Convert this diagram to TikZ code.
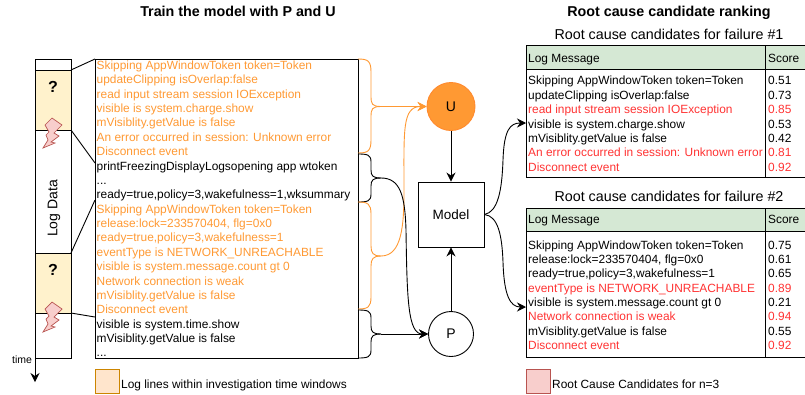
\documentclass[tikz,border=0pt]{standalone}
\usepackage{fontspec}
\setmainfont{Liberation Sans}
\usetikzlibrary{arrows.meta}
\definecolor{logorange}{HTML}{FF9933}
\definecolor{logred}{HTML}{FF3333}
\definecolor{headgreen}{HTML}{D5E8D4}
\definecolor{winyellow}{HTML}{FFF2CC}
\definecolor{flashred}{HTML}{F8CECC}
\definecolor{flashline}{HTML}{B85450}
\tikzset{
  line/.style={black,line width=0.9pt},
  logline/.style={anchor=base west,inner sep=0pt,font=\fontsize{11.9}{14}\selectfont},
  title/.style={anchor=base,inner sep=0pt,font=\fontsize{14.3}{16}\selectfont\bfseries},
  subtitle/.style={anchor=base,inner sep=0pt,font=\fontsize{14.3}{16}\selectfont},
  tip/.style={-{Stealth[length=9pt,width=9pt,inset=3pt]}},
  window/.style={draw=black,line width=0.9pt,fill=winyellow},
  flash/.style={draw=flashline,line width=0.7pt,fill=flashred},
}
\begin{document}
\begin{tikzpicture}[x=1pt,y=-1pt]
  \useasboundingbox (0,0) rectangle (805,394);
  % titles
  \node [title] (traintitle) at (238,16) {Train the model with P and U};
  \node [title] (ranktitle) at (669,16) {Root cause candidate ranking};
  \node [subtitle] (subone) at (669,39) {Root cause candidates for failure \#1};
  \node [subtitle] (subtwo) at (669,201) {Root cause candidates for failure \#2};
  % log data column
  \draw [line] (35,59) rectangle (71,358);
  \draw [window] (35,70) rectangle (71,130);
  \draw [window] (35,253) rectangle (71,313);
  \node [font=\fontsize{16}{16}\selectfont\bfseries,inner sep=0pt] (qone) at (53,87) {?};
  \node [font=\fontsize{16}{16}\selectfont\bfseries,inner sep=0pt] (qtwo) at (53,270) {?};
  \node [font=\fontsize{14}{14}\selectfont,inner sep=0pt,rotate=90] (logdata) at (54,208.5) {Log Data};
  \foreach \dy in {0,184}
    \draw [flash,shift={(0,\dy)}] (52,118) -- (62,125) -- (54,133) -- (59,136) -- (51,142)
      -- (55,143) -- (43,148) -- (48,140) -- (46,135) -- (49,132) -- (45,125) -- cycle;
  % time axis
  \coordinate (timeend) at (35,382);
  \coordinate (timestart) at (35,358);
  \draw [line,tip] (timestart) -- (timeend);
  \node [font=\fontsize{10.5}{11}\selectfont,inner sep=0pt] (timelabel) at (22,360) {time};
  % log panel
  \draw [line] (95,59) rectangle (358,358);
  \draw [line] (71,70) -- (95,59);
  \draw [line] (71,130) -- (95,163);
  \draw [line] (71,253) -- (95,200);
  \draw [line] (71,313) -- (95,317);
  \foreach \y/\c/\t [count=\i] in {
    69/logorange/{Skipping AppWindowToken token=Token},
    83.3/logorange/{updateClipping isOverlap:false},
    98/logorange/{read input stream session IOException},
    112/logorange/{visible is system.charge.show},
    126.5/logorange/{mVisiblity.getValue is false},
    141/logorange/{An error occurred in session: Unknown error},
    155/logorange/{Disconnect event},
    170/black/{printFreezingDisplayLogsopening app wtoken},
    184/black/{...},
    198.5/black/{ready=true,policy=3,wakefulness=1,wksummary},
    213/logorange/{Skipping AppWindowToken token=Token},
    227/logorange/{release:lock=233570404, flg=0x0},
    241.5/logorange/{ready=true,policy=3,wakefulness=1},
    256/logorange/{eventType is NETWORK\_UNREACHABLE},
    270/logorange/{visible is system.message.count gt 0},
    285/logorange/{Network connection is weak},
    299/logorange/{mVisiblity.getValue is false},
    313.5/logorange/{Disconnect event},
    328/black/{visible is system.time.show},
    342/black/{mVisiblity.getValue is false},
    356.5/black/{...}}
    \node [logline,text=\c] (log\i) at (96.5,\y) {\t};
  % model
  \node [draw,circle,line width=0.9pt,draw=logorange!90!red,fill=logorange,minimum size=48pt,inner sep=0pt,font=\fontsize{14}{14}\selectfont] (unode) at (451,106.5) {U};
  \node [draw,circle,line width=0.9pt,minimum size=45pt,inner sep=0pt,font=\fontsize{14}{14}\selectfont] (pnode) at (451,334) {P};
  \node [draw,line width=0.9pt,minimum width=66pt,minimum height=65pt,inner sep=0pt,font=\fontsize{13.5}{14}\selectfont] (model) at (451,214.5) {Model};
  \draw [line,tip] (unode) -- (model);
  \draw [line,tip] (pnode) -- (model);
  % braces
  \coordinate (btipa) at (381,106.5);
  \coordinate (btipb) at (381,178);
  \coordinate (btipc) at (381,256);
  \coordinate (btipd) at (381,334);
  \draw [logorange,line width=0.9pt] (358,59) .. controls (368,59) and (371,61) .. (371,72) -- (371,96) .. controls (371,104) and (372,106.5) .. (btipa);
  \draw [logorange,line width=0.9pt] (358,153) .. controls (368,153) and (371,151) .. (371,140) -- (371,117) .. controls (371,109) and (372,106.5) .. (btipa);
  \draw [line] (358,154) .. controls (368,154) and (371,155) .. (371,162) -- (371,170) .. controls (371,176) and (373,178) .. (btipb);
  \draw [line] (358,202) .. controls (368,202) and (371,201) .. (371,194) -- (371,186) .. controls (371,180) and (373,178) .. (btipb);
  \draw [logorange,line width=0.9pt] (358,202) .. controls (368,202) and (371,204) .. (371,214) -- (371,246) .. controls (371,253) and (373,256) .. (btipc);
  \draw [logorange,line width=0.9pt] (358,309) .. controls (368,309) and (371,307) .. (371,297) -- (371,266) .. controls (371,259) and (373,256) .. (btipc);
  \draw [line] (358,310) .. controls (368,310) and (371,311) .. (371,318) -- (371,326) .. controls (371,332) and (373,334) .. (btipd);
  \draw [line] (358,358) .. controls (368,358) and (371,357) .. (371,350) -- (371,342) .. controls (371,336) and (373,334) .. (btipd);
  \draw [logorange,line width=0.9pt,tip] (btipa) -- (unode);
  \draw [line,tip] (btipd) -- (pnode);
  \draw [logorange,line width=0.9pt,tip] (btipc) .. controls (402,256) and (404,225) .. (404,190) .. controls (404,130) and (402,106.5) .. (unode.west);
  \draw [line,tip] (btipb) .. controls (400,178) and (405,195) .. (406,230) .. controls (407,300) and (408,334) .. (pnode.west);
  % outputs
  \coordinate (outone) at (526,123);
  \coordinate (outtwo) at (526,307);
  \draw [line,tip] (model.east) .. controls (498,212) and (502,190) .. (503,160) .. controls (504,130) and (510,123) .. (outone);
  \draw [line,tip] (model.east) .. controls (498,216) and (502,235) .. (503,262) .. controls (504,295) and (510,307) .. (outtwo);
  % ranking tables
  \fill [headgreen] (526,45) rectangle (805,69);
  \draw [line] (526,45) rectangle (805,177);
  \draw [line] (526,69) -- (805,69);
  \draw [line] (765.5,45) -- (765.5,177);
  \fill [headgreen] (526,208) rectangle (805,231);
  \draw [line] (526,208) rectangle (805,357);
  \draw [line] (526,231) -- (805,231);
  \draw [line] (765.5,208) -- (765.5,357);
  \node [logline] (headone) at (528,62) {Log Message};
  \node [logline] (scoreone) at (768,62) {Score};
  \node [logline] (headtwo) at (528,223) {Log Message};
  \node [logline] (scoretwo) at (768,223) {Score};
  \foreach \y/\c/\t/\s [count=\i] in {
    84/black/{Skipping AppWindowToken token=Token}/0.51,
    99/black/{updateClipping isOverlap:false}/0.73,
    113/logred/{read input stream session IOException}/0.85,
    128/black/{visible is system.charge.show}/0.53,
    142/black/{mVisiblity.getValue is false}/0.42,
    156/logred/{An error occurred in session: Unknown error}/0.81,
    171/logred/{Disconnect event}/0.92,
    249/black/{Skipping AppWindowToken token=Token}/0.75,
    263/black/{release:lock=233570404, flg=0x0}/0.61,
    277/black/{ready=true,policy=3,wakefulness=1}/0.65,
    292/logred/{eventType is NETWORK\_UNREACHABLE}/0.89,
    306/black/{visible is system.message.count gt 0}/0.21,
    320/logred/{Network connection is weak}/0.94,
    335/black/{mVisiblity.getValue is false}/0.55,
    349/logred/{Disconnect event}/0.92}
  {
    \node [logline,text=\c] (rank\i) at (528,\y) {\t};
    \node [logline,text=\c] (score\i) at (768,\y) {\s};
  }
  % legend
  \node [draw=orange!70!yellow!80!black,line width=0.9pt,fill=orange!20!white,minimum size=24pt,inner sep=0pt] (legendlog) at (107,381.5) {};
  \node [logline] (legendlogtext) at (121,388) {Log lines within investigation time windows};
  \node [draw=flashline,line width=0.9pt,fill=flashred,minimum size=24pt,inner sep=0pt] (legendcause) at (538,381.5) {};
  \node [logline] (legendcausetext) at (552,388) {Root Cause Candidates for n=3};
\end{tikzpicture}
\end{document}
